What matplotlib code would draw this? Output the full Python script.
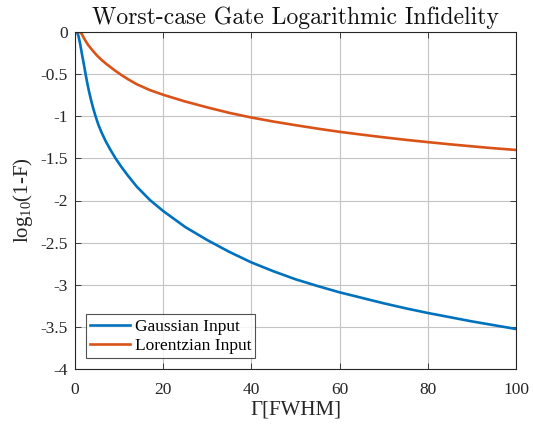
import matplotlib
matplotlib.use("Agg")
import matplotlib.pyplot as plt

# Data
gauss_x = [0, 0.45, 0.8, 1.2, 1.6, 2.0, 2.4, 2.8, 3.2, 3.6, 4.1, 4.6, 5.3, 6.0, 7.0, 8.0, 9.2, 10.5,
           12, 14, 17, 20, 25, 30, 35, 40, 45, 50, 55, 60, 65, 70, 75, 80, 85, 90, 95, 100]
gauss_y = [0, 0, -0.05, -0.15, -0.27, -0.38, -0.5, -0.61, -0.71, -0.80, -0.90, -0.99, -1.10, -1.19,
           -1.30, -1.395, -1.50, -1.60, -1.705, -1.835, -1.995, -2.125, -2.315, -2.47, -2.61,
           -2.735, -2.84, -2.935, -3.015, -3.09, -3.155, -3.22, -3.28, -3.335, -3.385, -3.435,
           -3.48, -3.525]
lor_x = [0, 1.0, 1.5, 2.0, 2.5, 3.0, 4.0, 5.0, 6.0, 7.0, 8.0, 9.0, 10.5, 12, 14, 17, 20, 25, 30, 35,
         40, 45, 50, 55, 60, 65, 70, 75, 80, 85, 90, 95, 100]
lor_y = [0, 0, -0.02, -0.07, -0.115, -0.155, -0.22, -0.28, -0.33, -0.375, -0.415, -0.455, -0.51,
         -0.56, -0.62, -0.69, -0.745, -0.825, -0.895, -0.96, -1.015, -1.063, -1.106, -1.147,
         -1.185, -1.218, -1.250, -1.280, -1.307, -1.333, -1.357, -1.380, -1.40]
xticks = [0, 20, 40, 60, 80, 100]
xtick_labels = ["0", "20", "40", "60", "80", "100"]
yticks = [-4, -3.5, -3, -2.5, -2, -1.5, -1, -0.5, 0]
ytick_labels = ["-4", "-3.5", "-3", "-2.5", "-2", "-1.5", "-1", "-0.5", "0"]
series_labels = ["Gaussian Input", "Lorentzian Input"]

plt.rcParams["mathtext.fontset"] = "custom"
plt.rcParams["mathtext.rm"] = "Liberation Serif"
plt.rcParams["mathtext.it"] = "Liberation Serif:italic"
plt.rcParams["font.family"] = ["Liberation Serif", "DejaVu Serif"]

W, H = 533, 426
fig = plt.figure(figsize=(W / 100, H / 100), dpi=100)
l, r, t, b = 75, 516, 32, 369
ax = fig.add_axes([l / W, 1 - b / H, (r - l) / W, (b - t) / H])

ax.plot(gauss_x, gauss_y, color="#0072BD", lw=1.9, label=series_labels[0],
        solid_joinstyle="round")
ax.plot(lor_x, lor_y, color="#D95319", lw=1.9, label=series_labels[1],
        solid_joinstyle="round")

ax.set_xlim(0, 100)
ax.set_ylim(-4, 0)
ax.set_xticks(xticks)
ax.set_xticklabels(xtick_labels)
ax.set_yticks(yticks)
ax.set_yticklabels(ytick_labels)
ax.grid(True, color="#c4c4c4", lw=0.8)
ax.set_axisbelow(True)
for s in ax.spines.values():
    s.set_color("#262626")
    s.set_linewidth(0.8)
ax.tick_params(direction="in", top=True, right=True, length=4, width=0.6, color="#262626",
               labelsize=12.5, labelcolor="#262626")
ax.tick_params(axis="x", pad=9)
ax.tick_params(axis="y", pad=5)

ax.set_title("Worst-case Gate Logarithmic Infidelity", fontfamily="cmr10", fontsize=17.1, pad=6,
             color="#111111")
ax.set_xlabel("Γ[FWHM]", fontsize=15, labelpad=2, color="#262626")
ax.set_ylabel("log$_{10}$(1-F)", fontsize=15, labelpad=4, color="#262626")

leg = ax.legend(loc="lower left", bbox_to_anchor=(11 / (r - l), 11 / (b - t)), borderaxespad=0,
                fontsize=12.5, frameon=True, fancybox=False, edgecolor="#262626",
                handlelength=2.3, handletextpad=0.25, borderpad=0.25, labelspacing=0.15)
leg.get_frame().set_linewidth(0.8)

fig.savefig("out.png", dpi=100)
